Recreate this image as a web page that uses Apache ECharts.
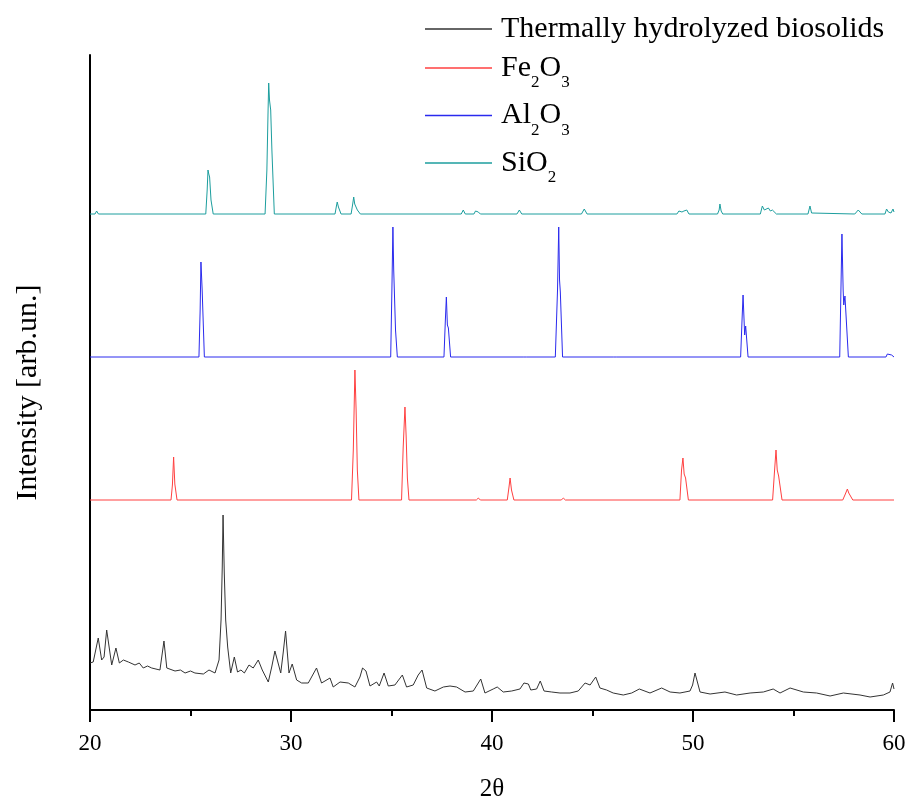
<!DOCTYPE html>
<html>
<head>
<meta charset="utf-8">
<script src="https://cdn.jsdelivr.net/npm/echarts@6.0.0/dist/echarts.min.js"></script>
<style>
  html, body { margin: 0; padding: 0; background: #fff; }
  #chart { width: 908px; height: 801px; }
</style>
</head>
<body>
<div id="chart"></div>
<script>
// series names (legend order)
const seriesNames = ['Thermally hydrolyzed biosolids', 'Fe2O3', 'Al2O3', 'SiO2'];

// x tick values (2theta)
const xTicks = [20, 30, 40, 50, 60];

// patterns as drawn (already offset), [2theta, intensity]
const biosolids = [
  [20.00, 47], [20.16, 48], [20.41, 72], [20.58, 50], [20.70, 53], [20.83, 80], [21.08, 45],
  [21.29, 62], [21.46, 47], [21.66, 50], [21.91, 48], [22.24, 45], [22.45, 47], [22.65, 42],
  [22.86, 44], [23.07, 42], [23.48, 40], [23.68, 69], [23.82, 42], [24.23, 39], [24.50, 40],
  [24.73, 37], [25.00, 39], [25.22, 37], [25.64, 36], [25.92, 40], [26.22, 37], [26.42, 50],
  [26.52, 90], [26.58, 143], [26.62, 195], [26.68, 137], [26.75, 90], [26.85, 63], [27.00, 37],
  [27.18, 53], [27.34, 38], [27.51, 40], [27.68, 37], [27.91, 45], [28.12, 42], [28.37, 50],
  [28.57, 40], [28.87, 28], [29.04, 43], [29.20, 59], [29.29, 57], [29.49, 37], [29.61, 57],
  [29.73, 79], [29.90, 37], [30.06, 46], [30.28, 30], [30.53, 27], [30.86, 27], [31.27, 42],
  [31.52, 27], [31.94, 32], [32.10, 23], [32.44, 28], [32.85, 27], [33.18, 23], [33.43, 33],
  [33.56, 42], [33.73, 39], [33.93, 24], [34.26, 28], [34.39, 24], [34.63, 37], [34.84, 24],
  [35.17, 25], [35.54, 35], [35.75, 23], [36.08, 25], [36.33, 35], [36.52, 40], [36.75, 22],
  [37.16, 19], [37.58, 23], [37.91, 24], [38.24, 23], [38.66, 18], [39.07, 19], [39.44, 31],
  [39.65, 17], [40.06, 21], [40.26, 23], [40.56, 18], [40.98, 19], [41.39, 21], [41.59, 27],
  [41.81, 26], [41.93, 20], [42.22, 21], [42.40, 29], [42.59, 19], [42.97, 18], [43.38, 17],
  [43.88, 17], [44.29, 19], [44.63, 27], [44.88, 25], [45.16, 33], [45.37, 22], [45.70, 20],
  [46.03, 17], [46.53, 15], [46.95, 17], [47.33, 21], [47.86, 17], [48.44, 22], [48.86, 18],
  [49.35, 17], [49.85, 19], [49.98, 25], [50.10, 37], [50.35, 18], [50.85, 16], [51.59, 18],
  [52.17, 15], [52.84, 17], [53.50, 18], [53.99, 21], [54.33, 17], [54.83, 22], [55.49, 18],
  [56.15, 17], [56.82, 14], [57.48, 17], [58.31, 15], [58.81, 13], [59.47, 15], [59.80, 18],
  [59.93, 27], [60.00, 21]
];

const fe2o3 = [
  [20, 210], [24.03, 210], [24.10, 225], [24.16, 253], [24.22, 226], [24.33, 210],
  [33.01, 210], [33.10, 260], [33.18, 340], [33.24, 300], [33.30, 240], [33.38, 210],
  [35.50, 210], [35.58, 262], [35.67, 303], [35.73, 273], [35.79, 232], [35.87, 210],
  [39.22, 210], [39.32, 212], [39.42, 210],
  [40.76, 210], [40.84, 222], [40.90, 232], [40.97, 220], [41.09, 210],
  [43.45, 210], [43.55, 212], [43.65, 210],
  [49.35, 210], [49.43, 240], [49.50, 252], [49.56, 236], [49.63, 232], [49.77, 210],
  [53.96, 210], [54.06, 240], [54.13, 260], [54.19, 240], [54.26, 234], [54.43, 210],
  [57.45, 210], [57.58, 216], [57.68, 221], [57.75, 217], [57.81, 215], [57.95, 210],
  [60, 210]
];

const al2o3 = [
  [20, 353], [25.42, 353], [25.48, 400], [25.52, 448], [25.58, 420], [25.69, 353],
  [34.96, 353], [35.02, 420], [35.07, 483], [35.11, 440], [35.14, 420], [35.20, 380], [35.29, 353],
  [37.61, 353], [37.68, 390], [37.73, 413], [37.78, 385], [37.83, 382], [37.94, 353],
  [41.55, 353], [41.64, 355], [41.73, 353],
  [43.15, 353], [43.26, 420], [43.32, 483], [43.36, 430], [43.40, 418], [43.51, 353],
  [46.03, 353], [46.12, 355], [46.21, 353],
  [52.37, 353], [52.44, 390], [52.49, 415], [52.57, 375], [52.62, 384], [52.74, 353],
  [57.30, 353], [57.36, 420], [57.41, 476], [57.47, 420], [57.50, 405], [57.56, 414], [57.73, 353],
  [59.60, 353], [59.67, 356], [59.74, 354], [59.88, 355], [59.95, 353], [60, 353]
];

const sio2 = [
  [20, 496], [20.25, 496], [20.33, 499], [20.42, 496],
  [25.76, 496], [25.83, 520], [25.87, 540], [25.91, 536], [25.95, 533], [26.02, 510], [26.13, 496],
  [28.71, 496], [28.80, 540], [28.86, 600], [28.89, 627], [28.93, 610], [28.99, 600], [29.05, 560], [29.17, 496],
  [32.19, 496], [32.26, 504], [32.30, 508], [32.36, 503], [32.49, 496],
  [32.99, 496], [33.07, 506], [33.12, 513], [33.17, 506], [33.22, 507], [33.30, 500], [33.45, 496],
  [38.47, 496], [38.57, 500], [38.67, 496],
  [39.10, 496], [39.18, 499], [39.24, 501], [39.32, 498], [39.42, 496],
  [41.24, 496], [41.36, 500], [41.48, 496],
  [44.45, 496], [44.59, 501], [44.73, 496],
  [49.20, 496], [49.30, 499], [49.35, 501], [49.45, 498], [49.55, 499], [49.69, 500], [49.80, 496],
  [51.22, 496], [51.30, 500], [51.34, 506], [51.40, 499], [51.48, 496],
  [53.35, 496], [53.45, 504], [53.55, 500], [53.62, 499], [53.75, 502], [53.85, 499], [53.95, 500], [54.03, 502], [54.15, 496],
  [55.72, 496], [55.82, 504], [55.90, 497], [55.98, 496],
  [58.05, 496], [58.22, 500], [58.40, 496],
  [59.55, 496], [59.63, 501], [59.72, 498], [59.85, 497], [59.95, 501], [60, 498]
];

const seriesData = [biosolids, fe2o3, al2o3, sio2];
const seriesColors = ['#333333', '#ff4040', '#2a2aee', '#1c9e9e'];

// legend labels with subscripts
const legendLabels = {
  'Thermally hydrolyzed biosolids': '{g|}{m|Thermally hydrolyzed biosolids}',
  'Fe2O3': '{g|}{m|Fe}{s|2}{m|O}{s|3}',
  'Al2O3': '{g|}{m|Al}{s|2}{m|O}{s|3}',
  'SiO2': '{g|}{m|SiO}{s|2}'
};

const font = 'Liberation Serif';
const chart = echarts.init(document.getElementById('chart'), null, { renderer: 'canvas' });

chart.setOption({
  backgroundColor: '#ffffff',
  animation: false,
  grid: { left: 90, right: 14, top: 55, bottom: 91, outerBoundsMode: 'none' },
  legend: {
    orient: 'vertical',
    left: 420,
    top: 9,
    icon: 'rect',
    itemWidth: 67,
    itemHeight: 1.5,
    itemGap: 9,
    data: seriesNames,
    formatter: name => legendLabels[name],
    textStyle: {
      fontFamily: font,
      fontSize: 30,
      color: '#000',
      rich: {
        g: { width: 4 },
        m: { fontFamily: font, fontSize: 30, color: '#000' },
        s: { fontFamily: font, fontSize: 17, color: '#000', padding: [30, 0, 0, 0] }
      }
    }
  },
  xAxis: {
    type: 'value',
    min: xTicks[0],
    max: xTicks[xTicks.length - 1],
    interval: 10,
    name: '2θ',
    nameLocation: 'middle',
    nameGap: 67,
    nameTextStyle: { fontFamily: font, fontSize: 25, color: '#000' },
    axisLine: { lineStyle: { color: '#000', width: 2 } },
    axisTick: { length: 12, lineStyle: { color: '#000', width: 2 } },
    minorTick: { show: true, splitNumber: 2, length: 6, lineStyle: { color: '#000', width: 2 } },
    splitLine: { show: false },
    axisLabel: { fontFamily: font, fontSize: 23, color: '#000', margin: 22 }
  },
  yAxis: {
    type: 'value',
    min: 0,
    max: 655,
    name: 'Intensity [arb.un.]',
    nameLocation: 'middle',
    nameGap: 47,
    nameTextStyle: { fontFamily: font, fontSize: 30, color: '#000', padding: [0, 20, 0, 0] },
    axisLine: { show: true, onZero: false, lineStyle: { color: '#000', width: 2 } },
    axisTick: { show: false },
    axisLabel: { show: false },
    splitLine: { show: false }
  },
  series: seriesNames.map((name, i) => ({
    name: name,
    type: 'line',
    data: seriesData[i],
    symbol: 'none',
    showSymbol: false,
    color: seriesColors[i],
    lineStyle: { color: seriesColors[i], width: 1 }
  }))
});
</script>
</body>
</html>
